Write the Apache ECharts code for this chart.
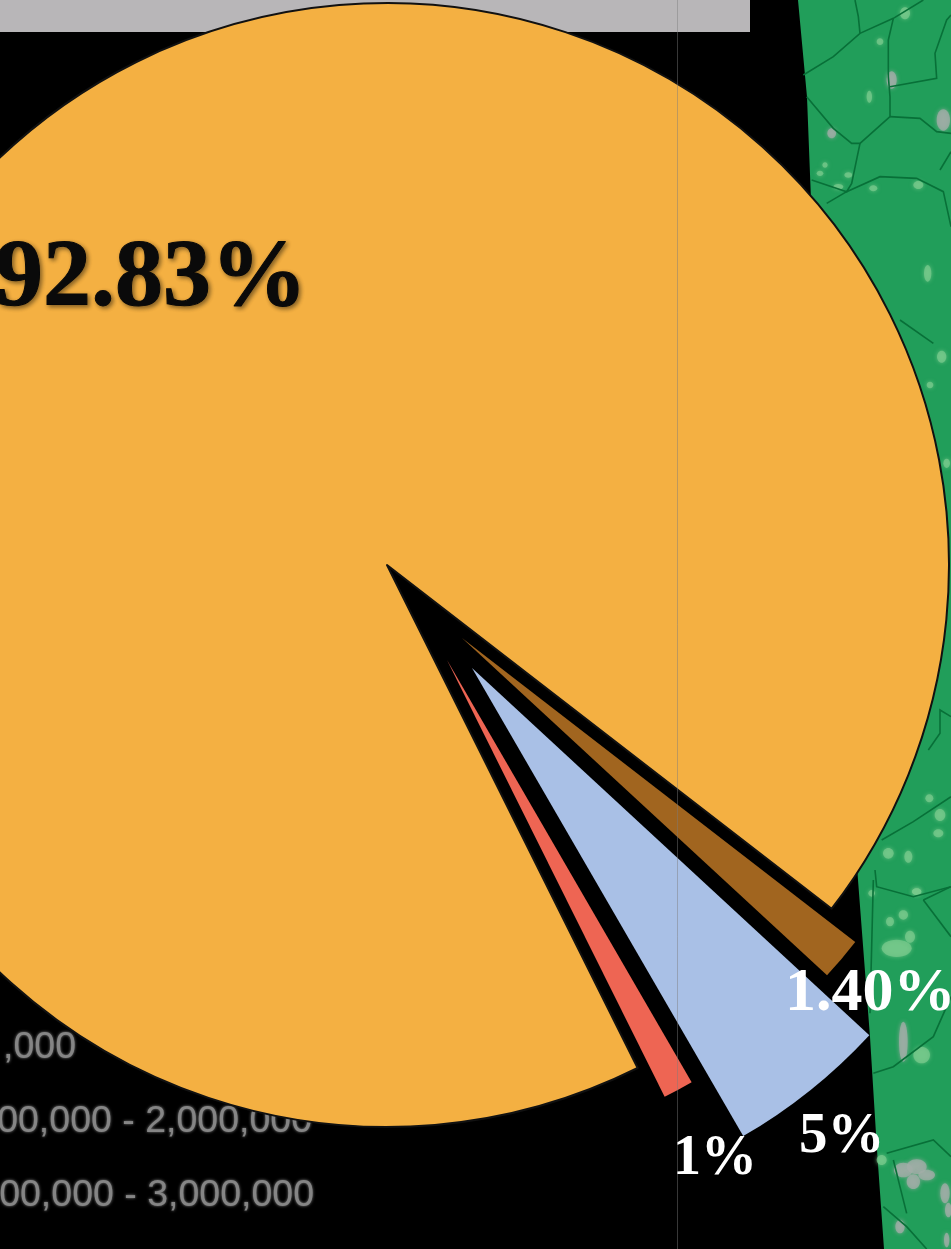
<!DOCTYPE html>
<html><head><meta charset="utf-8">
<style>html,body{margin:0;padding:0;background:#000;overflow:hidden}#c{width:951px;height:1249px;filter:blur(0.7px)}</style>
<script src="https://cdn.jsdelivr.net/npm/echarts@6/dist/echarts.min.js"></script>
</head><body><div id="c"></div>
<script>
// chart data
const categories = ['1.40%', '5%', '1%', '92.83%'];
const values = [1.40, 4.77, 1.00, 92.83];
const colors = ['#a1651f', '#a9c0e6', '#ee6553', '#f4b042'];
const centers = [[462, 638], [472, 668], [447, 660], [387, 565]];
const radii = [497, 541, 488, 562];
const legendRows = [',000', '00,000 - 2,000,000', '00,000 - 3,000,000'];

// map backdrop decoration helpers
const z3 = (x, y) => [660 + x / 3, y / 3];
const z1 = (x, y) => [640 + x / 3, 880 + y / 3];
const z4 = (x, y) => [800 + x / 3, 300 + y / 3];
const z7 = (x, y) => [800 + x / 3, 600 + y / 3];
const mapLines = [
  [z3, [[430,225],[520,170],[600,100],[700,55],[790,0]]],
  [z3, [[585,0],[595,50],[600,100]]],
  [z3, [[700,55],[685,120],[685,230],[690,290],[690,350],[600,430],[575,430],[520,385],[440,290]]],
  [z3, [[690,350],[780,355],[830,395],[873,400]]],
  [z3, [[690,260],[830,235],[825,160],[860,60],[873,45]]],
  [z3, [[600,430],[575,550],[560,575],[455,540]]],
  [z3, [[560,575],[500,610]]],
  [z3, [[560,575],[660,530],[770,535],[850,575],[873,680]]],
  [z3, [[840,510],[873,455]]],
  [z4, [[300,60],[400,130]]],
  [z7, [[245,720],[340,665],[453,590]]],
  [z7, [[385,450],[420,400],[420,330],[453,350]]],
  [z7, [[225,810],[230,860],[340,890],[453,860]]],
  [z1, [[700,580],[760,560],[880,470],[933,350]]],
  [z1, [[740,820],[880,780],[933,830]]],
  [z1, [[730,980],[800,1040],[860,1107]]],
  [z1, [[760,840],[800,1000]]],
  [z1, [[850,60],[933,20]]],
  [z1, [[850,60],[933,170]]],
  [z1, [[700,0],[695,200],[690,400]]]
];
const light = '#78c98c', grey = '#a3aea8';
const mapSpots = [
  [z3,695,240,15,26,grey],[z3,850,360,20,32,grey],[z3,628,290,8,18,light],[z3,515,400,13,15,grey],
  [z3,735,40,15,18,light],[z3,803,820,11,25,light],[z3,775,555,15,12,light],[z3,640,565,12,9,light],
  [z3,535,560,15,8,light],[z3,480,520,10,8,light],[z3,565,525,12,8,light],[z3,495,495,8,8,light],[z3,660,125,10,10,light],
  [z4,425,170,14,18,light],[z4,390,255,10,10,light],[z4,440,490,10,14,light],
  [z7,420,645,16,18,light],[z7,388,595,12,12,light],[z7,415,700,15,12,light],[z7,265,760,16,16,light],[z7,325,770,12,18,light],[z7,350,875,14,10,light],[z7,215,880,10,10,light],
  [z1,770,205,45,26,light],[z1,810,170,15,18,light],[z1,790,105,14,14,light],[z1,750,125,12,14,light],[z1,830,35,14,10,light],
  [z1,845,525,25,25,light],[z1,790,485,13,60,grey],[z1,725,840,15,15,light],
  [z1,790,870,28,22,grey],[z1,830,860,30,22,grey],[z1,820,905,20,22,grey],[z1,860,885,25,16,grey],
  [z1,915,940,14,30,grey],[z1,925,990,10,22,grey],[z1,780,1040,14,20,grey],[z1,920,1080,8,22,grey]
];

const bg = [
  {type:'rect', z:-10, shape:{x:0,y:0,width:750,height:32}, style:{fill:'#b8b6b8'}},
  {type:'polygon', z:-9, shape:{points:[[798,0],[807,97],[811,200],[858,880],[870,1037],[877,1150],[884,1249],[951,1249],[951,0]]}, style:{fill:'#219e5a'}}
];
mapSpots.forEach(([f,x,y,rx,ry,c]) => {
  const [cx, cy] = f(x, y);
  bg.push({type:'ellipse', z:-8, shape:{cx, cy, rx:rx/3, ry:ry/3}, style:{fill:c, opacity:0.75, shadowBlur:4, shadowColor:c}});
});
mapLines.forEach(([f,pts]) => {
  bg.push({type:'polyline', z:-7, shape:{points:pts.map(p => f(p[0],p[1]))}, style:{stroke:'#087038', lineWidth:1.6, fill:null}});
});

const legendGfx = legendRows.map((t,i) => ({
  type:'text', z:-5, x:[76,312,314][i], y:[1067,1141,1215][i],
  style:{text:t, fill:'#858585', font:'37.5px "Liberation Sans", Arial, sans-serif', align:'right', verticalAlign:'bottom', textShadowColor:'#858585', textShadowBlur:3}
}));

// baseline is converted to the top of the text box
const label = (t,x,base,size,fill,extra) => ({
  type:'text', z:100, x, y:base-0.83*size,
  style:Object.assign({text:t, fill, font:'bold '+size+'px "Liberation Serif", "Times New Roman", serif', align:'left', verticalAlign:'top'}, extra||{})
});
const labels = [
  label(categories[3], -5, 312, 96, '#0a0a0a', {stroke:'#0a0a0a', lineWidth:1, textShadowColor:'rgba(0,0,0,0.45)', textShadowBlur:4, textShadowOffsetX:2, textShadowOffsetY:2}),
  label(categories[0], 785, 1014, 62, '#ffffff'),
  label(categories[1], 799, 1156, 57, '#ffffff'),
  label(categories[2], 673, 1178, 56, '#ffffff')
];
const seam = {type:'line', z:90, shape:{x1:677.5,y1:0,x2:677.5,y2:1249}, style:{stroke:'rgba(125,125,125,0.45)', lineWidth:1}};

// one pie per slice, because each wedge has its own apex and radius
const order = [3,0,1,2];
const series = order.map(k => ({
  type:'pie', z:2+order.indexOf(k), center:centers[k], radius:[0,radii[k]],
  startAngle:-37.7, clockwise:true, silent:true, animation:false,
  label:{show:false}, labelLine:{show:false}, emphasis:{disabled:true},
  data:categories.map((n,i) => ({
    name:n, value:values[i],
    itemStyle: i===k ? {color:colors[i], borderColor:k===3?'#111':colors[i], borderWidth:k===3?2:0}
                     : {color:'transparent', borderWidth:0}
  }))
}));

const chart = echarts.init(document.getElementById('c'), null, {renderer:'canvas'});
chart.setOption({
  backgroundColor:'#000',
  animation:false,
  graphic:{elements:[...bg, ...legendGfx, seam, ...labels]},
  series
});
</script></body></html>
